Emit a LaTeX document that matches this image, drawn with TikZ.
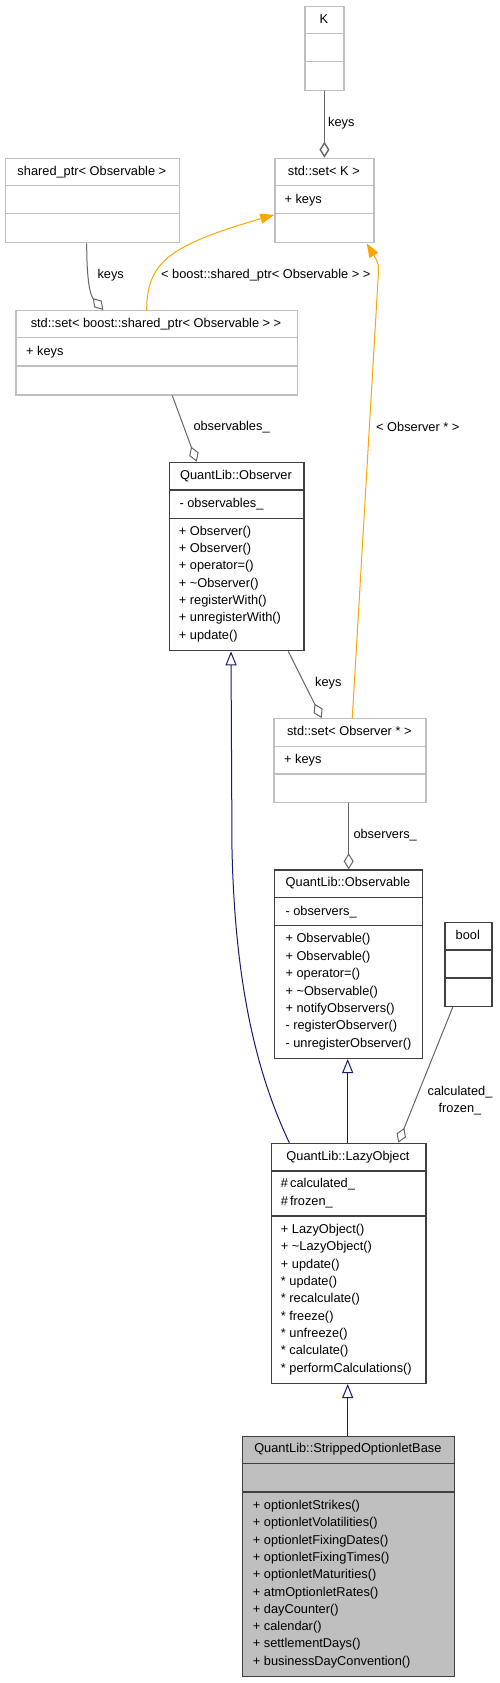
\documentclass[tikz,border=0pt]{standalone}
\usepackage{fontspec}
\setmainfont{Liberation Sans}
\usetikzlibrary{arrows.meta,calc}
\definecolor{boxgray}{HTML}{BFBFBF}
\definecolor{boxdark}{HTML}{404040}
\definecolor{edgegray}{HTML}{666666}
\definecolor{tmplorange}{HTML}{FFA500}
\definecolor{inhblue}{HTML}{191970}
\definecolor{fillgray}{HTML}{BFBFBF}
\newcommand{\umlbox}[8]{%
  \node[#2, minimum width={(#5-(#3))*1pt}, minimum height={(#6-(#4))*1pt}] (#1) at (#3,#4) {};
  \draw[#2] (#3,#7) -- (#5,#7);
  \draw[#2] (#3,#8) -- (#5,#8);
}
\tikzset{
  gbox/.style={draw=boxgray, line width=1.3pt, inner sep=0pt, anchor=north west},
  bbox/.style={draw=boxdark, line width=1.3pt, inner sep=0pt, anchor=north west},
  sbox/.style={bbox, fill=fillgray},
  txt/.style={anchor=base west, inner sep=0pt, font=\fontsize{12.8}{15}\selectfont},
  htxt/.style={anchor=base, inner sep=0pt, font=\fontsize{12.8}{15}\selectfont},
  lbl/.style={anchor=west, inner sep=0pt, font=\fontsize{12.8}{15}\selectfont},
  agg/.style={draw=edgegray, line width=1pt, -{Diamond[open,length=16pt,width=10pt]}},
  inh/.style={draw=inhblue, line width=1pt, -{Triangle[open,length=14pt,width=11pt]}},
  tmpl/.style={draw=tmplorange, line width=1pt, -{Triangle[length=14pt,width=10pt,fill=tmplorange]}},
}
\begin{document}
\begin{tikzpicture}[x=1pt,y=-1pt]
\useasboundingbox[fill=white] (0,0) rectangle (499,1683);

% boxes
\umlbox{K}{gbox}{304.3}{5.7}{343.3}{90}{33.7}{61.7}
\umlbox{setK}{gbox}{274.3}{157.7}{373.3}{242}{185.7}{213.7}
\umlbox{shptr}{gbox}{5}{157.7}{178.7}{242}{185.7}{213.7}
\umlbox{setSh}{gbox}{15.3}{310}{296.7}{394.3}{337.7}{366}
\umlbox{Observer}{bbox}{168.7}{461.7}{303.3}{650}{490}{518.3}
\umlbox{setObs}{gbox}{273.3}{718}{425.3}{802}{746.3}{774}
\umlbox{Observable}{bbox}{274}{869.3}{422}{1057.7}{897.7}{925.7}
\umlbox{bool}{bbox}{444.3}{921.7}{491.3}{1006}{950}{978}
\umlbox{Lazy}{bbox}{270.7}{1142.7}{425.3}{1382.7}{1171}{1216}
\umlbox{Stripped}{sbox}{241.7}{1436}{454}{1675.7}{1463.7}{1492}

% headers
\node[htxt] (hK) at (323.8,23.3) {K};
\node[htxt] (hsetK) at (323.8,175.5) {std::set< K >};
\node[htxt] (hshptr) at (91.85,175.5) {shared\_ptr< Observable >};
\node[htxt] (hsetSh) at (156,327.5) {std::set< boost::shared\_ptr< Observable > >};
\node[htxt] (hObserver) at (236,479) {QuantLib::Observer};
\node[htxt] (hsetObs) at (349.3,735.2) {std::set< Observer * >};
\node[htxt] (hObservable) at (348,886.8) {QuantLib::Observable};
\node[htxt] (hbool) at (467.8,939.2) {bool};
\node[htxt] (hLazy) at (348,1160.2) {QuantLib::LazyObject};
\node[htxt] (hStripped) at (347.85,1452.8) {QuantLib::StrippedOptionletBase};

% attributes
\node[txt] (asetK) at (284.3,203.5) {+ keys};
\node[txt] (asetSh) at (26,355.2) {+ keys};
\node[txt] (aObserver) at (179.3,507.2) {- observables\_};
\node[txt] (asetObs) at (284,763.2) {+ keys};
\node[txt] (aObservable) at (285.3,915.2) {- observers\_};
\node[txt] (aLazy1) at (280.7,1187.8) {\#\,calculated\_};
\node[txt] (aLazy2) at (280.7,1205.5) {\#\,frozen\_};

% methods
\foreach \t [count=\i] in {{+ Observer()},{+ Observer()},{+ operator=()},{+ \textasciitilde Observer()},{+ registerWith()},{+ unregisterWith()},{+ update()}}
  \node[txt] (mObserver-\i) at (178.7,{535.2+(\i-1)*17.33}) {\t};
\foreach \t [count=\i] in {{+ Observable()},{+ Observable()},{+ operator=()},{+ \textasciitilde Observable()},{+ notifyObservers()},{- registerObserver()},{- unregisterObserver()}}
  \node[txt] (mObservable-\i) at (285.3,{942.8+(\i-1)*17.4}) {\t};
\foreach \t [count=\i] in {{+ LazyObject()},{+ \textasciitilde LazyObject()},{+ update()},{* update()},{* recalculate()},{* freeze()},{* unfreeze()},{* calculate()},{* performCalculations()}}
  \node[txt] (mLazy-\i) at (280.7,{1233.5+(\i-1)*17.34}) {\t};
\foreach \t [count=\i] in {{+ optionletStrikes()},{+ optionletVolatilities()},{+ optionletFixingDates()},{+ optionletFixingTimes()},{+ optionletMaturities()},{+ atmOptionletRates()},{+ dayCounter()},{+ calendar()},{+ settlementDays()},{+ businessDayConvention()}}
  \node[txt] (mStripped-\i) at (252.7,{1509.5+(\i-1)*17.3}) {\t};

% connectors
\draw[agg, line width=1.4pt] (K.south) -- (setK.north);
\node[lbl] (lK) at (328,122.7) {keys};

\draw[agg] ($(shptr.south west)+(81.7,0)$) .. controls (86.7,280) and (90,295) .. ($(setSh.north west)+(88,0)$);
\node[lbl] (lsh) at (97.3,274.7) {keys};

\draw[tmpl] ($(setSh.north west)+(131.4,0)$) .. controls (146.7,262) and (170,245) .. ($(setK.south west)+(0,-28.5)$);
\node[lbl] (lsetsh) at (161,274.7) {< boost::shared\_ptr< Observable > >};

\draw[tmpl] ($(setObs.north west)+(79,0)$) -- (378,280) .. controls (379,264) .. ($(setK.south west)+(92.4,0)$);
\node[lbl] (lsetobs) at (376,426.7) {< Observer * >};

\draw[agg] ($(setSh.south west)+(157,0)$) -- ($(Observer.north west)+(28,0)$);
\node[lbl] (lobservables) at (193.3,426.7) {observables\_};

\draw[agg] ($(Observer.south west)+(119.6,0)$) -- ($(setObs.north west)+(48.4,0)$);
\node[lbl] (lkeys2) at (315,682.7) {keys};

\draw[agg] ($(setObs.south west)+(75.4,0)$) -- ($(Observable.north west)+(74.7,0)$);
\node[lbl] (lobservers) at (353.3,835) {observers\_};

\draw[agg] ($(bool.south west)+(8.4,0)$) -- ($(Lazy.north west)+(127.6,0)$);
\node[htxt, align=center] (lcalc) at (460,1095.2) {calculated\_};
\node[htxt, align=center] (lfrozen) at (460,1112.8) {frozen\_};

\draw[inh] ($(Lazy.north west)+(77,0)$) -- ($(Observable.south west)+(73.7,0)$);
\draw[inh] ($(Lazy.north west)+(18.6,0)$) .. controls (255,1070) and (235,980) .. (232,850) -- ($(Observer.south west)+(62.3,0)$);
\draw[inh] ($(Stripped.north west)+(106,0)$) -- ($(Lazy.south west)+(77,0)$);
\end{tikzpicture}
\end{document}
